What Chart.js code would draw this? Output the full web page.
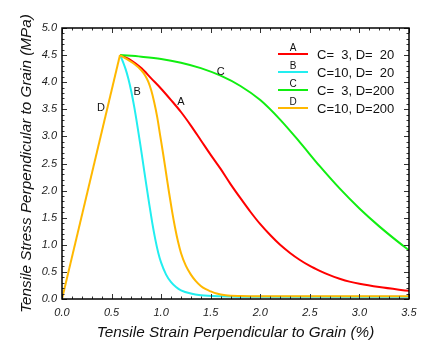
<!DOCTYPE html>
<html><head><meta charset="utf-8">
<script src="https://cdn.jsdelivr.net/npm/chart.js@4/dist/chart.umd.min.js"></script>
<style>html,body{margin:0;padding:0;background:#fff}#wrap{width:439px;height:355px;position:relative}</style>
</head><body><div id="wrap"><canvas id="c" width="439" height="355"></canvas></div>
<script>
// ---- data ----
const seriesLetters = ['A', 'B', 'C', 'D'];
const legendTexts = ['C=  3, D=  20', 'C=10, D=  20', 'C=  3, D=200', 'C=10, D=200'];
const seriesColors = ['#ff0000', '#22eef0', '#11ee11', '#ffb800'];

// common linear rise up to peak (shared by all four curves)
const strainRise = [0, 0.585];
const stressRise = [0, 4.50];

// softening branches (from the peak)
const strainA = [0.585, 0.70, 0.80, 0.90, 1.00, 1.10, 1.20, 1.30, 1.40, 1.50, 1.60, 1.70, 1.80, 1.90, 2.00, 2.10, 2.20, 2.30, 2.40, 2.50, 2.60, 2.70, 2.80, 2.90, 3.00, 3.20, 3.50];
const stressA = [4.50, 4.40, 4.26, 4.07, 3.88, 3.67, 3.45, 3.20, 2.93, 2.66, 2.40, 2.12, 1.86, 1.61, 1.38, 1.18, 1.00, 0.85, 0.72, 0.61, 0.52, 0.44, 0.375, 0.32, 0.28, 0.22, 0.15];

const strainB = [0.585, 0.61, 0.64, 0.67, 0.70, 0.73, 0.76, 0.79, 0.82, 0.85, 0.88, 0.91, 0.94, 0.97, 1.00, 1.05, 1.10, 1.15, 1.20, 1.30, 1.40, 1.60, 2.00, 3.50];
const stressB = [4.50, 4.40, 4.25, 4.06, 3.82, 3.53, 3.20, 2.85, 2.48, 2.11, 1.75, 1.41, 1.11, 0.86, 0.67, 0.45, 0.31, 0.22, 0.16, 0.10, 0.07, 0.05, 0.04, 0.04];

const strainC = [0.585, 0.80, 1.00, 1.20, 1.40, 1.60, 1.80, 2.00, 2.20, 2.40, 2.60, 2.80, 3.00, 3.20, 3.40, 3.50];
const stressC = [4.50, 4.47, 4.43, 4.36, 4.26, 4.12, 3.93, 3.67, 3.31, 2.89, 2.45, 2.04, 1.67, 1.34, 1.04, 0.90];

const strainD = [0.585, 0.65, 0.72, 0.80, 0.84, 0.87, 0.90, 0.93, 0.96, 0.99, 1.02, 1.05, 1.08, 1.11, 1.14, 1.17, 1.20, 1.25, 1.30, 1.35, 1.40, 1.45, 1.50, 1.56, 1.65, 1.80, 2.00, 3.50];
const stressD = [4.50, 4.43, 4.35, 4.22, 4.12, 4.01, 3.85, 3.63, 3.36, 3.02, 2.68, 2.32, 1.96, 1.62, 1.32, 1.06, 0.85, 0.61, 0.45, 0.33, 0.24, 0.18, 0.14, 0.10, 0.07, 0.055, 0.05, 0.05];

// curve label anchors (data coordinates)
const curveLabelStrain = [1.20, 0.757, 1.60, 0.394];
const curveLabelStress = [3.63, 3.82, 4.19, 3.52];

const xTickValues = [0, 0.5, 1.0, 1.5, 2.0, 2.5, 3.0, 3.5];
const yTickValues = [0, 0.5, 1.0, 1.5, 2.0, 2.5, 3.0, 3.5, 4.0, 4.5, 5.0];
const xTitle = 'Tensile Strain Perpendicular to Grain (%)';
const yTitle = 'Tensile Stress Perpendicular to Grain (MPa)';

// ---- build ----
const strains = [strainA, strainB, strainC, strainD];
const stresses = [stressA, stressB, stressC, stressD];
const datasets = strains.map((xs, i) => ({
  label: legendTexts[i],
  data: xs.map((x, j) => ({ x: x, y: stresses[i][j] })),
  borderColor: seriesColors[i],
  backgroundColor: seriesColors[i],
  borderWidth: 2,
  pointRadius: 0,
  showLine: true,
  cubicInterpolationMode: 'monotone',
  fill: false,
  order: 4 - i
}));
datasets.push({
  label: 'rise',
  data: strainRise.map((x, j) => ({ x: x, y: stressRise[j] })),
  borderColor: seriesColors[3],
  backgroundColor: seriesColors[3],
  borderWidth: 2,
  pointRadius: 0,
  showLine: true,
  tension: 0,
  fill: false,
  order: 0
});

const FONT = '"Liberation Sans", Arial, Helvetica, sans-serif';

const decor = {
  id: 'decor',
  afterDatasetsDraw(chart) {
    const { ctx, chartArea: ca, scales: { x, y } } = chart;
    ctx.save();
    ctx.strokeStyle = '#333';
    ctx.lineWidth = 1;
    ctx.beginPath();
    for (let k = 0; k <= 35; k++) {
      const px = Math.round(x.getPixelForValue(k / 10)) + 0.5;
      const len = (k % 5 === 0) ? 5 : 2.5;
      ctx.moveTo(px, ca.bottom); ctx.lineTo(px, ca.bottom - len);
      ctx.moveTo(px, ca.top); ctx.lineTo(px, ca.top + len);
    }
    for (let k = 0; k <= 50; k++) {
      const py = Math.round(y.getPixelForValue(k / 10)) + 0.5;
      const len = (k % 5 === 0) ? 5 : 2.5;
      ctx.moveTo(ca.left, py); ctx.lineTo(ca.left + len, py);
      ctx.moveTo(ca.right, py); ctx.lineTo(ca.right - len, py);
    }
    ctx.stroke();
    ctx.strokeStyle = '#000';
    ctx.lineWidth = 1.5;
    ctx.strokeRect(ca.left, ca.top, ca.right - ca.left, ca.bottom - ca.top);

    ctx.fillStyle = '#111';
    ctx.font = '11px ' + FONT;
    ctx.textAlign = 'center';
    ctx.textBaseline = 'middle';
    for (let i = 0; i < seriesLetters.length; i++) {
      ctx.fillText(seriesLetters[i], x.getPixelForValue(curveLabelStrain[i]), y.getPixelForValue(curveLabelStress[i]));
    }

    const lx0 = ca.right - 131, lx1 = ca.right - 101;
    for (let i = 0; i < legendTexts.length; i++) {
      const ly = ca.top + 26 + i * 18;
      ctx.strokeStyle = seriesColors[i];
      ctx.lineWidth = 2;
      ctx.beginPath();
      ctx.moveTo(lx0, ly); ctx.lineTo(lx1, ly);
      ctx.stroke();
      ctx.fillStyle = '#111';
      ctx.font = '10px ' + FONT;
      ctx.textAlign = 'center';
      ctx.textBaseline = 'middle';
      ctx.fillText(seriesLetters[i], (lx0 + lx1) / 2, ly - 6);
      ctx.font = '13px ' + FONT;
      ctx.textAlign = 'left';
      ctx.fillText(legendTexts[i], lx1 + 9, ly + 1);
    }
    ctx.restore();
  }
};

new Chart(document.getElementById('c'), {
  type: 'scatter',
  data: { datasets },
  options: {
    responsive: false,
    animation: false,
    devicePixelRatio: 1,
    layout: { padding: { top: 28, right: 30, left: 0, bottom: 0 } },
    plugins: { legend: { display: false }, tooltip: { enabled: false } },
    scales: {
      x: {
        type: 'linear', min: 0, max: 3.5,
        afterBuildTicks: s => { s.ticks = xTickValues.map(v => ({ value: v })); },
        ticks: { callback: v => Number(v).toFixed(1), font: { family: FONT, size: 11, style: 'italic' }, color: '#222', padding: 7, maxRotation: 0 },
        grid: { display: false, drawTicks: false },
        border: { display: false },
        title: { display: true, text: xTitle, font: { family: FONT, size: 15.3, style: 'italic' }, color: '#111', padding: { top: 0, bottom: 13 } },
        afterFit: s => { s.height = 56; }
      },
      y: {
        type: 'linear', min: 0, max: 5,
        afterBuildTicks: s => { s.ticks = yTickValues.map(v => ({ value: v })); },
        ticks: { callback: v => Number(v).toFixed(1), font: { family: FONT, size: 11, style: 'italic' }, color: '#222', padding: 5 },
        grid: { display: false, drawTicks: false },
        border: { display: false },
        title: { display: true, text: yTitle, font: { family: FONT, size: 15.3, style: 'italic' }, color: '#111', padding: { top: 17.8, bottom: 0 } },
        afterFit: s => { s.width = 62; }
      }
    }
  },
  plugins: [decor]
});
</script>
</body></html>
